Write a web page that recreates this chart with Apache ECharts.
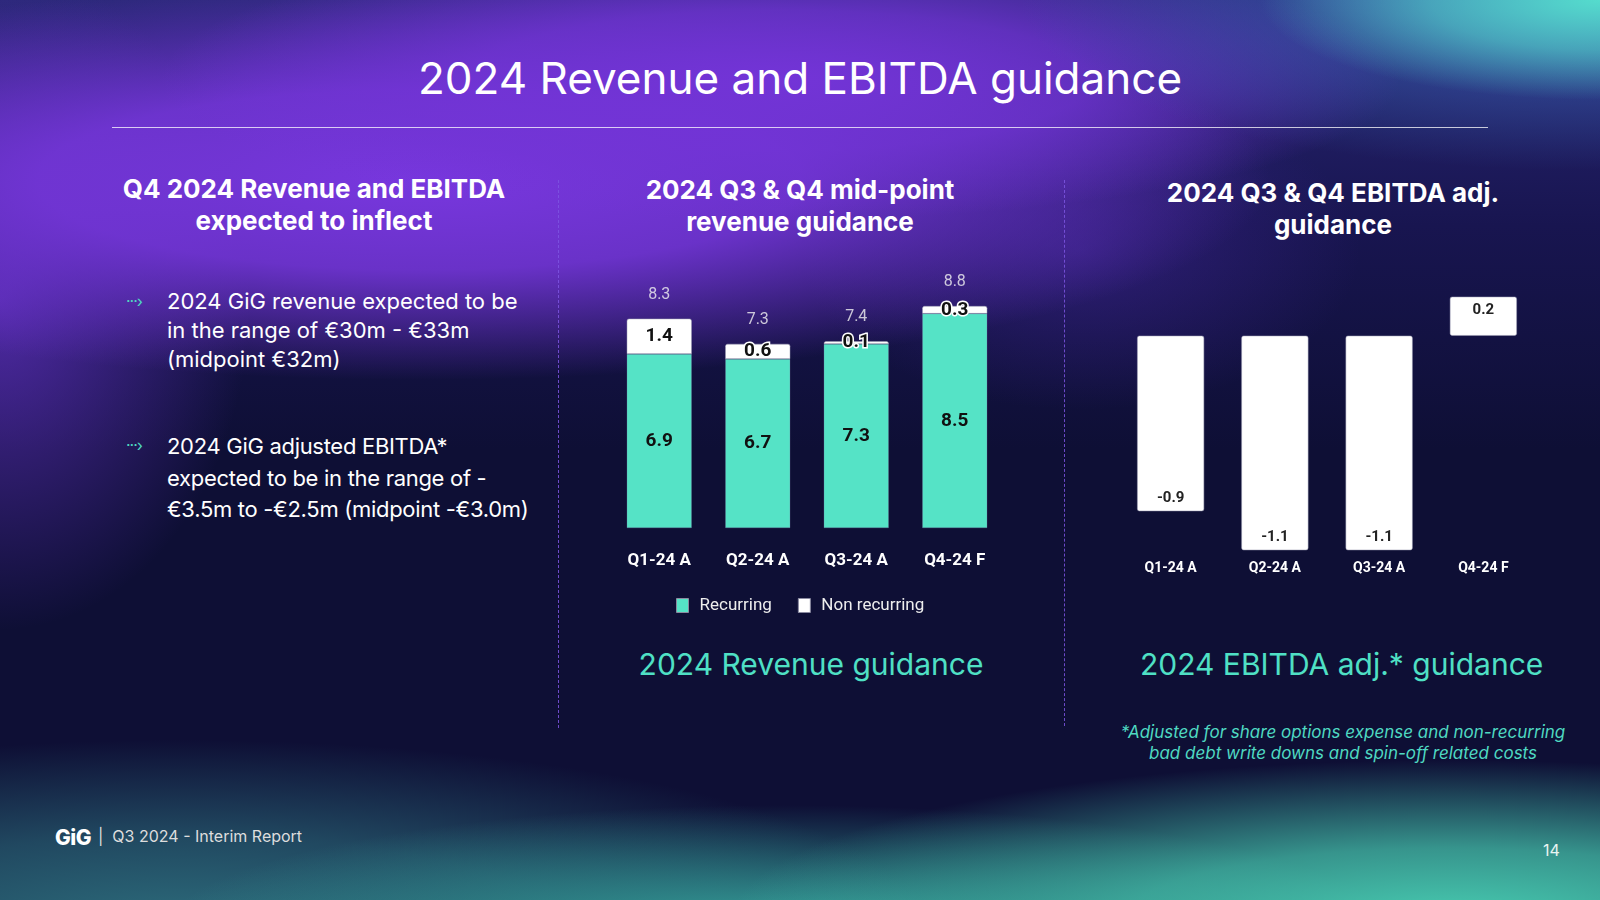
<!DOCTYPE html>
<html><head><meta charset="utf-8">
<script src="https://cdn.jsdelivr.net/npm/echarts@6/dist/echarts.min.js"></script>
<style>
html,body{margin:0;padding:0;width:1600px;height:900px;overflow:hidden;}
body{position:relative;font-family:Inter,"Noto Sans",sans-serif;color:#fff;
background-color:#0e0f35;
background-image:
 radial-gradient(ellipse 340px 100px at 1600px 0px, rgba(85,220,205,1) 0%, rgba(85,220,205,0.6) 50%, rgba(85,220,205,0) 100%),
 radial-gradient(ellipse 560px 170px at 1580px 0px, rgba(60,110,190,0.8), rgba(60,110,190,0) 100%),
 radial-gradient(ellipse 720px 160px at 1450px 920px, rgba(72,205,178,1) 0%, rgba(72,205,178,0.7) 45%, rgba(72,205,178,0) 100%),
 radial-gradient(ellipse 620px 130px at 780px 935px, rgba(55,170,160,1), rgba(55,170,160,0) 100%),
 radial-gradient(ellipse 750px 190px at 180px 930px, rgba(45,110,125,1) 0%, rgba(45,110,125,0.6) 50%, rgba(45,110,125,0) 100%),
 radial-gradient(ellipse 620px 140px at 780px 80px, rgba(115,52,215,1) 0%, rgba(115,52,215,0.75) 50%, rgba(115,52,215,0) 100%),
 radial-gradient(ellipse 850px 200px at 420px 180px, rgba(120,55,222,1) 0%, rgba(120,55,222,0.85) 45%, rgba(120,55,222,0) 100%),
 radial-gradient(ellipse 250px 330px at 0px 300px, rgba(95,48,190,0.8), rgba(95,48,190,0) 100%),
 radial-gradient(ellipse 280px 160px at 1080px 250px, rgba(70,40,160,0.5), rgba(70,40,160,0) 100%),
 linear-gradient(180deg, #2a2878 0%, #181550 25%, #0e0f35 50%, #0e0f35 100%);
}
.t{position:absolute;white-space:nowrap;}
#chart{position:absolute;left:0;top:0;width:1600px;height:900px;}
</style></head>
<body>
<div class="t" style="left:0;width:1600px;top:51px;text-align:center;font-size:44px;">2024 Revenue and EBITDA guidance</div>
<div style="position:absolute;left:112px;top:127px;width:1376px;height:1px;background:rgba(255,255,255,0.75);"></div>
<div class="t" style="left:114px;width:400px;top:173px;text-align:center;font-size:26px;font-weight:700;line-height:32px;">Q4 2024 Revenue and EBITDA<br>expected to inflect</div>
<div class="t" style="left:600px;width:400px;top:174px;text-align:center;font-size:26px;font-weight:700;line-height:32px;">2024 Q3 &amp; Q4 mid-point<br>revenue guidance</div>
<div class="t" style="left:1133px;width:400px;top:177px;text-align:center;font-size:26px;font-weight:700;line-height:32px;">2024 Q3 &amp; Q4 EBITDA adj.<br>guidance</div>
<div class="t" style="left:126px;top:291px;font-size:16px;color:#4fd9c2;letter-spacing:-1px;">···›</div>
<div class="t" style="left:167px;top:287px;font-size:22px;line-height:29px;">2024 GiG revenue expected to be<br>in the range of €30m - €33m<br>(midpoint €32m)</div>
<div class="t" style="left:126px;top:435px;font-size:16px;color:#4fd9c2;letter-spacing:-1px;">···›</div>
<div class="t" style="left:167px;top:431px;font-size:22px;line-height:31.5px;letter-spacing:-0.3px;">2024 GiG adjusted EBITDA*<br>expected to be in the range of -<br>€3.5m to -€2.5m (midpoint -€3.0m)</div>
<div style="position:absolute;left:558px;top:180px;height:548px;border-left:1px dashed rgba(125,85,225,0.85);"></div>
<div style="position:absolute;left:1064px;top:180px;height:546px;border-left:1px dashed rgba(125,85,225,0.85);"></div>
<div class="t" style="left:611px;width:400px;top:646px;text-align:center;font-size:30px;color:#4fe0c5;">2024 Revenue guidance</div>
<div class="t" style="left:1140px;width:400px;top:646px;text-align:center;font-size:30px;color:#4fe0c5;">2024 EBITDA adj.* guidance</div>
<div class="t" style="left:1093px;width:500px;top:722px;text-align:center;font-size:17px;font-style:italic;line-height:21px;color:#4fd9c2;">*Adjusted for share options expense and non-recurring<br>bad debt write downs and spin-off related costs</div>
<div class="t" style="left:55px;top:825px;font-size:21px;font-weight:800;letter-spacing:-0.5px;">GiG</div>
<div class="t" style="left:98px;top:826px;font-size:16px;color:#ddd;">|&nbsp; Q3 2024 - Interim Report</div>
<div class="t" style="left:1543px;top:840px;font-size:16px;color:#e8f5f2;">14</div>
<div id="chart"></div>
<script>
const categories = ["Q1-24 A","Q2-24 A","Q3-24 A","Q4-24 F"];
const recurring = [6.9, 6.7, 7.3, 8.5];
const nonRecurring = [1.4, 0.6, 0.1, 0.3];
const revenueTotal = [8.3, 7.3, 7.4, 8.8];
const ebitdaAdj = [-0.9, -1.1, -1.1, 0.2];

const chart = echarts.init(document.getElementById('chart'), null, {renderer:'canvas'});
const lblFont = 'Roboto, "Liberation Sans", sans-serif';
chart.setOption({
  backgroundColor: 'transparent',
  animation: false,
  legend: {
    left: 676, top: 597, padding: 0, itemWidth: 12, itemHeight: 14, itemGap: 26,
    icon: 'rect',
    data: ['Recurring','Non recurring'],
    itemStyle: {borderColor:'#8a8aa0', borderWidth:1},
    textStyle: {color:'#eeeeee', fontSize:17, fontFamily:lblFont, padding:[0,0,0,6]}
  },
  grid: [
    {left: 610, top: 301, width: 394, height: 227},
    {left: 1118.5, top: 296.7, width: 417, height: 253.5}
  ],
  xAxis: [
    {gridIndex:0, type:'category', data:categories, axisLine:{show:false}, axisTick:{show:false},
     axisLabel:{color:'#fff', fontSize:17, fontWeight:'bold', margin:24, fontFamily:lblFont}},
    {gridIndex:1, type:'category', data:categories, axisLine:{show:false, onZero:false}, axisTick:{show:false},
     axisLabel:{color:'#fff', fontSize:14, fontWeight:'bold', margin:11, fontFamily:lblFont}}
  ],
  yAxis: [
    {gridIndex:0, type:'value', min:0, max:9, show:false, splitLine:{show:false}},
    {gridIndex:1, type:'value', min:-1.1, max:0.2, show:false, splitLine:{show:false}}
  ],
  series: [
    {name:'Recurring', type:'bar', stack:'rev', xAxisIndex:0, yAxisIndex:0, data:recurring, barWidth:65,
     itemStyle:{color:'#55e3c6', borderColor:'rgba(120,120,160,0.6)', borderWidth:0.5},
     label:{show:true, position:'inside', color:'#111', fontSize:19, fontWeight:'bold', fontFamily:lblFont}},
    {name:'Non recurring', type:'bar', stack:'rev', xAxisIndex:0, yAxisIndex:0, data:nonRecurring, barWidth:65,
     itemStyle:{color:'#ffffff', borderColor:'#9a9ab0', borderWidth:0.5, borderRadius:[2,2,0,0]},
     label:{show:true, position:'inside', color:'#111', fontSize:19, fontWeight:'bold', fontFamily:lblFont,
            textBorderColor:'#fff', textBorderWidth:3}},
    {name:'Total', type:'scatter', xAxisIndex:0, yAxisIndex:0, data:revenueTotal, symbolSize:0.1,
     itemStyle:{color:'rgba(0,0,0,0)'}, silent:true,
     label:{show:true, position:'top', distance:16, color:'#f2f2f2', fontSize:16, fontFamily:lblFont}},
    {name:'EBITDA adj.', type:'bar', xAxisIndex:1, yAxisIndex:1, barWidth:67,
     data: ebitdaAdj.map(v => ({value:v, label:{position: v<0 ? 'insideBottom':'insideTop', distance:v<0?5:6}})),
     itemStyle:{color:'#ffffff', borderColor:'#9a9ab0', borderWidth:0.5, borderRadius:2},
     label:{show:true, color:'#222', fontSize:15, fontWeight:'bold', fontFamily:lblFont}}
  ]
});
</script>
</body></html>
